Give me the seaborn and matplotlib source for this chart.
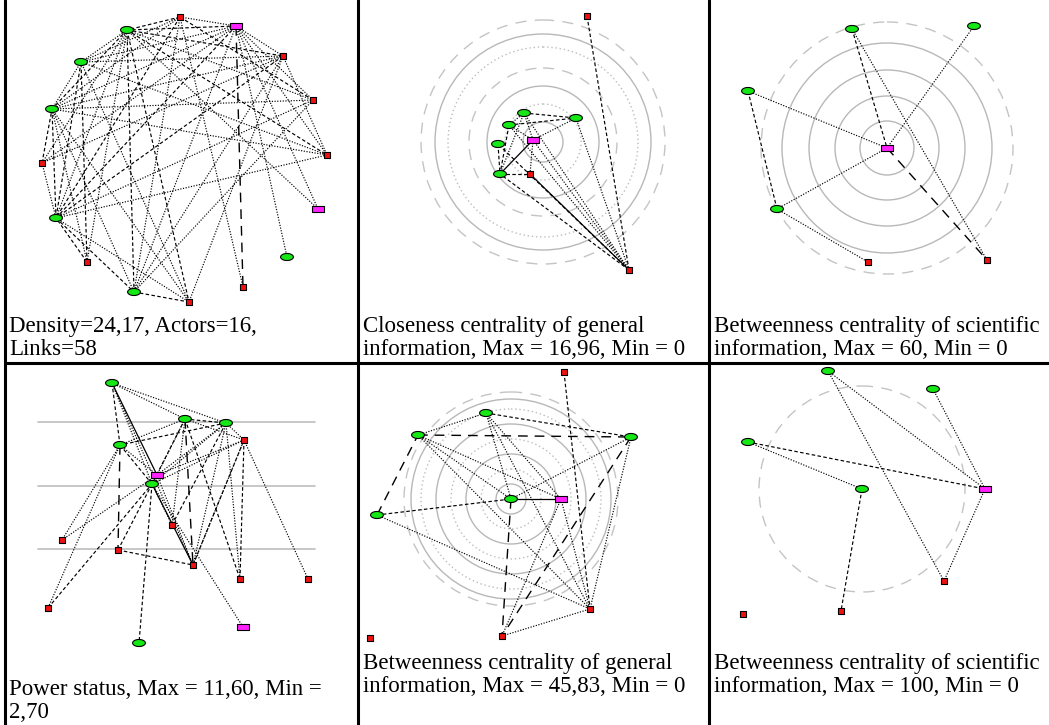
import numpy as np
import pandas as pd
import matplotlib
matplotlib.use("Agg")
import matplotlib.pyplot as plt
from matplotlib.path import Path
from matplotlib.patches import Circle
from matplotlib.lines import Line2D
import seaborn as sns

# ---------------- data ----------------
# node layouts (local pixel units within each cell) and actor groups
# group: G = green actors, R = red actors, M = magenta actors
p1_x = [180, 236, 127, 81, 283, 52, 313, 42, 327, 56, 318, 87, 287, 134, 189, 243]
p1_y = [17, 26, 30, 62, 56, 109, 100, 163, 155, 218, 209, 262, 257, 292, 302, 287]
p1_g = ["R", "M", "G", "G", "R", "G", "R", "R", "R", "G", "M", "R", "G", "G", "R", "R"]
p1_edges = [(0, 1, "w"), (0, 2, "s"), (0, 3, "w"), (0, 5, "w"), (0, 9, "s"), (0, 13, "w"),
            (1, 2, "s"), (1, 3, "w"), (1, 4, "w"), (1, 5, "w"), (1, 9, "s"), (1, 13, "w"),
            (2, 3, "w"), (2, 4, "s"), (2, 5, "s"), (2, 9, "w"), (2, 13, "s"), (3, 5, "w"),
            (3, 9, "s"), (3, 4, "w"), (4, 5, "w"), (4, 9, "s"), (4, 13, "w"), (5, 9, "s"),
            (5, 13, "w"), (9, 13, "s"), (1, 6, "w"), (2, 6, "w"), (5, 6, "w"), (0, 6, "s"),
            (1, 8, "w"), (5, 8, "w"), (9, 8, "w"), (2, 8, "s"), (1, 10, "w"), (1, 12, "w"),
            (1, 15, "L"), (9, 14, "w"), (13, 14, "s"), (5, 14, "w"), (4, 14, "w"), (2, 14, "s"),
            (3, 14, "w"), (7, 5, "s"), (7, 9, "w"), (7, 2, "w"), (7, 1, "w"), (7, 4, "w"),
            (11, 9, "s"), (11, 5, "w"), (11, 3, "s"), (11, 2, "w"), (9, 6, "w"), (4, 8, "w"),
            (3, 8, "w"), (13, 6, "w"), (0, 15, "w"), (2, 10, "w")]

p2_x = [237, 174, 226, 159, 183, 148, 150, 180, 279]
p2_y = [16, 113, 118, 125, 140, 144, 174, 174, 270]
p2_g = ["R", "G", "G", "G", "M", "G", "G", "R", "R"]
p2_edges = [(8, 0, "s"), (8, 1, "w"), (8, 2, "w"), (8, 3, "w"), (8, 4, "w"), (8, 6, "s"),
            (8, 7, "k"), (8, 5, "s"), (1, 2, "s"), (3, 2, "s"), (1, 3, "w"), (4, 2, "w"),
            (4, 1, "w"), (4, 3, "w"), (3, 6, "s"), (5, 6, "s"), (6, 4, "k"), (6, 7, "s"),
            (7, 4, "w"), (1, 6, "w")]
p2_rings = [20, 38, 56, 74, 95, 108, 122]

p3_x = [152, 274, 48, 187, 77, 168, 287]
p3_y = [29, 26, 91, 148, 209, 262, 260]
p3_g = ["G", "G", "G", "M", "G", "R", "R"]
p3_edges = [(0, 3, "s"), (0, 6, "w"), (1, 3, "w"), (2, 3, "w"), (2, 4, "s"), (4, 3, "w"),
            (4, 5, "w"), (3, 6, "L")]
p3_rings = [27, 52, 78, 105, 126]

p4_x = [112, 185, 226, 120, 244, 157, 152, 172, 62, 118, 193, 240, 308, 48, 243, 139]
p4_y = [21, 57, 61, 83, 78, 113, 122, 163, 178, 188, 203, 217, 217, 246, 265, 281]
p4_g = ["G", "G", "G", "G", "R", "M", "G", "R", "R", "R", "R", "R", "R", "R", "M", "G"]
p4_edges = [(0, 1, "w"), (0, 2, "w"), (0, 3, "s"), (0, 5, "k"), (0, 6, "w"), (0, 10, "w"),
            (1, 2, "s"), (1, 3, "w"), (1, 5, "w"), (1, 6, "s"), (1, 4, "w"), (2, 3, "s"),
            (2, 4, "w"), (2, 5, "w"), (2, 6, "w"), (2, 10, "w"), (3, 5, "w"), (3, 6, "s"),
            (3, 9, "L"), (3, 13, "w"), (4, 5, "w"), (4, 6, "w"), (4, 10, "w"), (4, 12, "w"),
            (5, 6, "s"), (5, 8, "w"), (6, 9, "s"), (6, 10, "k"), (6, 7, "w"), (6, 15, "s"),
            (6, 14, "w"), (5, 10, "w"), (1, 10, "L"), (1, 11, "s"), (2, 11, "w"), (9, 10, "s"),
            (3, 8, "w"), (1, 7, "w"), (4, 11, "s"), (2, 7, "s"), (10, 4, "s"), (13, 6, "s")]
p4_levels = [60, 124, 187]

p5_x = [214, 136, 68, 281, 161, 211, 27, 240, 152, 20]
p5_y = [10, 51, 73, 75, 137, 137, 153, 247, 274, 276]
p5_g = ["R", "G", "G", "G", "G", "M", "G", "R", "R", "R"]
p5_edges = [(0, 7, "s"), (1, 3, "s"), (2, 1, "w"), (2, 3, "L"), (2, 4, "w"), (2, 5, "w"),
            (2, 7, "w"), (1, 4, "w"), (1, 5, "w"), (1, 7, "w"), (3, 4, "w"), (3, 7, "w"),
            (4, 5, "k"), (6, 2, "L"), (6, 4, "s"), (6, 7, "w"), (4, 8, "L"), (5, 8, "w"),
            (8, 7, "w"), (5, 7, "w"), (3, 8, "L")]
p5_rings = [15, 30, 45, 60, 75, 90, 100, 107]

p6_x = [128, 233, 48, 162, 285, 244, 141, 43]
p6_y = [9, 27, 80, 127, 127, 219, 249, 252]
p6_g = ["G", "G", "G", "G", "M", "R", "R", "R"]
p6_edges = [(0, 4, "w"), (0, 5, "w"), (1, 4, "w"), (2, 4, "s"), (2, 3, "w"), (3, 6, "s"),
            (4, 5, "w")]
p6_rings = [103]

captions = [
    ["Density=24,17, Actors=16,", "Links=58"],
    ["Closeness centrality of general", "information, Max = 16,96, Min = 0"],
    ["Betweenness centrality of scientific", "information, Max = 60, Min = 0"],
    ["Power status, Max = 11,60, Min =", "2,70"],
    ["Betweenness centrality of general", "information, Max = 45,83, Min = 0"],
    ["Betweenness centrality of scientific", "information, Max = 100, Min = 0"],
]

# ---------------- style ----------------
sns.set_theme(style="white")
plt.rcParams["font.family"] = ["Liberation Serif", "DejaVu Serif"]

W, H = 1049, 725
fig = plt.figure(figsize=(W / 100, H / 100), dpi=100)
fig.patch.set_facecolor("white")

t = np.linspace(0, 2 * np.pi, 41)
ellipse = Path(np.column_stack([np.cos(t), 0.55 * np.sin(t)]), closed=True)
rect = Path([(-1, -0.5), (1, -0.5), (1, 0.5), (-1, 0.5), (-1, -0.5)], closed=True)

palette = {"G": "#16e816", "R": "#ee1111", "M": "#ff22ff"}
markers = {"G": ellipse, "R": "s", "M": rect}
sizes = {"G": 85, "R": 22, "M": 80}
edge_styles = {
    "w": dict(ls=(0, (1.0, 1.3)), lw=0.85),
    "s": dict(ls=(0, (3.0, 2.0)), lw=0.85),
    "L": dict(ls=(0, (7.0, 5.0)), lw=1.0),
    "k": dict(ls="-", lw=0.9),
}
ring_styles = [dict(ls="-", color="#b8b8b8"), dict(ls=(0, (1, 2)), color="#bdbdbd"),
               dict(ls="-", color="#b8b8b8"), dict(ls=(0, (8, 6)), color="#c4c4c4")]

# cells: (origin x, origin y, width, height) in figure pixels
cells = [(0, 0, 350, 362), (350, 0, 350, 362), (700, 0, 349, 362),
         (0, 362, 350, 363), (350, 362, 350, 363), (700, 362, 349, 363)]

panels = [
    (p1_x, p1_y, p1_g, p1_edges, None),
    (p2_x, p2_y, p2_g, p2_edges, p2_rings),
    (p3_x, p3_y, p3_g, p3_edges, p3_rings),
    (p4_x, p4_y, p4_g, p4_edges, None),
    (p5_x, p5_y, p5_g, p5_edges, p5_rings),
    (p6_x, p6_y, p6_g, p6_edges, p6_rings),
]
ring_center = {1: 4, 2: 3, 4: 4, 5: 3}
ring_style_order = {
    1: [0, 1, 0, 3, 1, 0, 3],
    2: [0, 0, 0, 0, 3],
    4: [0, 1, 0, 1, 0, 1, 0, 3],
    5: [3],
}

for k, ((ox, oy, cw, ch), (xs, ys, gs, edges, rings)) in enumerate(zip(cells, panels)):
    ax = fig.add_axes([ox / W, 1 - (oy + ch) / H, cw / W, ch / H])
    ax.set_xlim(0, cw)
    ax.set_ylim(ch, 0)
    ax.set_axis_off()
    ax.patch.set_alpha(0)

    df = pd.DataFrame({"x": xs, "y": ys, "group": gs})

    if rings is not None:
        c = ring_center[k]
        cx, cy = df.x[c], df.y[c]
        if k == 1:
            cx, cy = cx + 10, cy + 2
        for r, si in zip(rings, ring_style_order[k]):
            st = ring_styles[si]
            ax.add_patch(Circle((cx, cy), r, fill=False, lw=1.0, zorder=1, **st))
    if k == 3:
        for lev in p4_levels:
            ax.axhline(lev, xmin=38 / cw, xmax=315 / cw, color="#bdbdbd", lw=1.2, zorder=1)

    for i, j, kind in edges:
        ax.plot([df.x[i], df.x[j]], [df.y[i], df.y[j]], color="black", zorder=2,
                **edge_styles[kind])

    sns.scatterplot(data=df, x="x", y="y", hue="group", style="group", size="group",
                    palette=palette, markers=markers, sizes=sizes, edgecolor="black",
                    linewidth=0.8, legend=False, ax=ax, zorder=3)
    ax.set_xlim(0, cw)
    ax.set_ylim(ch, 0)
    ax.set_axis_off()

# captions
cap_pos = [(9, 332), (363, 332), (714, 332), (9, 695), (363, 669), (714, 669)]
for (tx, ty), lines in zip(cap_pos, captions):
    for n, line in enumerate(lines):
        fig.text(tx / W, 1 - (ty + 23 * n) / H, line, fontsize=16.5, color="black",
                 ha="left", va="baseline")

# table rules
lw_rule = 2.2
for xv in [5, 358, 709]:
    fig.add_artist(Line2D([xv / W, xv / W], [0, 1], transform=fig.transFigure,
                          color="black", lw=lw_rule))
fig.add_artist(Line2D([5 / W, 1], [1 - 363 / H, 1 - 363 / H], transform=fig.transFigure,
                      color="black", lw=lw_rule))

fig.savefig("out.png", dpi=100, facecolor="white")
